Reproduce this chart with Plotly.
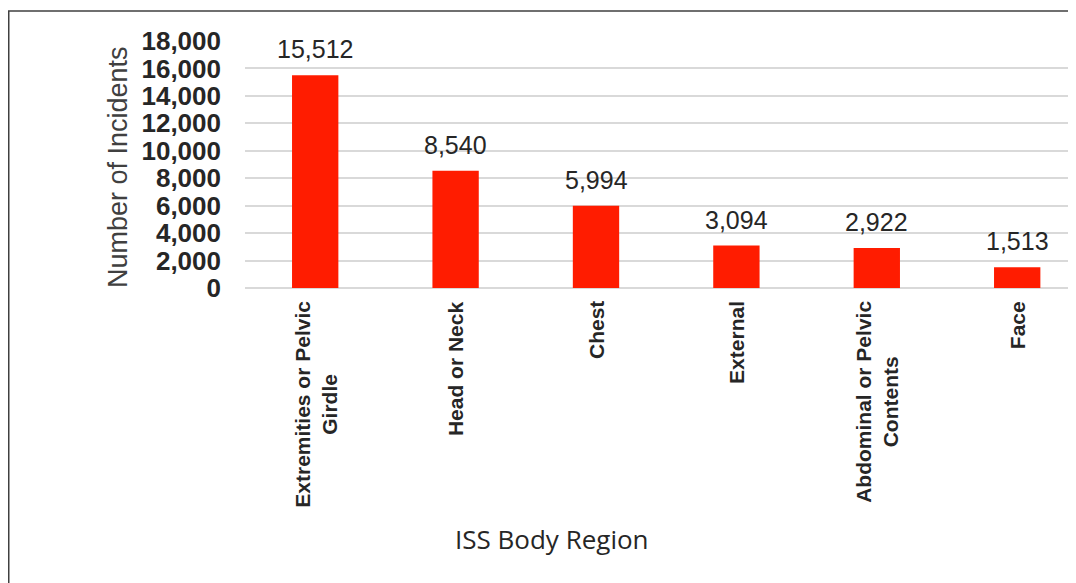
import plotly.graph_objects as go

categories = ["Extremities or Pelvic<br>Girdle", "Head or Neck", "Chest", "External",
              "Abdominal or Pelvic<br>Contents", "Face"]
values = [15512, 8540, 5994, 3094, 2922, 1513]
y_ticks = list(range(0, 18001, 2000))
y_tick_labels = [f"{v:,}" for v in y_ticks]

OFF = 8  # page body margin
W, H = 1076 - OFF, 583 - OFF
L, R, T, B = 245 - OFF, 0, 41 - OFF, 583 - 288
pw = W - L - R
ph = H - T - B

def px_to_paper_x(px):  # px given in page coords
    return (px - OFF - L) / pw

def px_to_paper_y(py):
    return (H - B - (py - OFF)) / ph

x_idx = list(range(len(categories)))

fig = go.Figure(go.Bar(
    x=x_idx,
    y=values,
    width=0.33,
    marker=dict(color="#FF1C00", line=dict(width=0)),
    cliponaxis=False,
))

annotations = [
    dict(x=i, y=v, xref="x", yref="y", text=f"{v:,}", showarrow=False,
         xanchor="center", yanchor="bottom", yshift=10,
         font=dict(family="Arial, Liberation Sans", size=25, color="#262626"))
    for i, v in zip(x_idx, values)
]
annotations += [
    dict(x=i, y=px_to_paper_y(299), xref="x", yref="paper", text=f"<b>{c}</b>",
         textangle=-90, align="center", showarrow=False,
         xanchor="center", yanchor="top",
         font=dict(family="Arial, Liberation Sans", size=21, color="#262626"))
    for i, c in zip(x_idx, categories)
]
annotations += [
    dict(text="Number of Incidents", textangle=-90,
         x=px_to_paper_x(118), y=px_to_paper_y(167), xref="paper", yref="paper",
         xanchor="center", yanchor="middle", showarrow=False,
         font=dict(family="Arial, Liberation Sans", size=27, color="#404040")),
    dict(text="ISS Body Region",
         x=px_to_paper_x(552), y=px_to_paper_y(539), xref="paper", yref="paper",
         xanchor="center", yanchor="middle", showarrow=False,
         font=dict(family="Open Sans", size=26, color="#262626")),
]

fig.update_layout(
    width=W, height=H,
    margin=dict(l=L, r=R, t=T, b=B, pad=0),
    paper_bgcolor="white", plot_bgcolor="white",
    showlegend=False,
    xaxis=dict(
        range=[-0.5, -0.5 + pw / 140.4],
        tickmode="array",
        tickvals=x_idx,
        showticklabels=False,
        showgrid=False, zeroline=False, showline=False, ticks="",
    ),
    yaxis=dict(
        range=[0, 18000],
        tickmode="array",
        tickvals=y_ticks,
        ticktext=[f"<b>{t}</b>" for t in y_tick_labels],
        tickfont=dict(family="Arial, Liberation Sans", size=26, color="#262626"),
        showgrid=True, gridcolor="#D9D9D9", gridwidth=1.5,
        zeroline=True, zerolinecolor="#D9D9D9", zerolinewidth=1.5,
        showline=False, ticks="",
        ticklabelstandoff=23,
    ),
    annotations=annotations,
    shapes=[
        dict(type="rect", xref="paper", yref="paper",
             x0=px_to_paper_x(OFF + 0.75), x1=px_to_paper_x(1200),
             y0=px_to_paper_y(700), y1=px_to_paper_y(11),
             line=dict(color="#404040", width=1.5), fillcolor="rgba(0,0,0,0)", layer="below"),
    ],
)

fig.write_html("out.html")
